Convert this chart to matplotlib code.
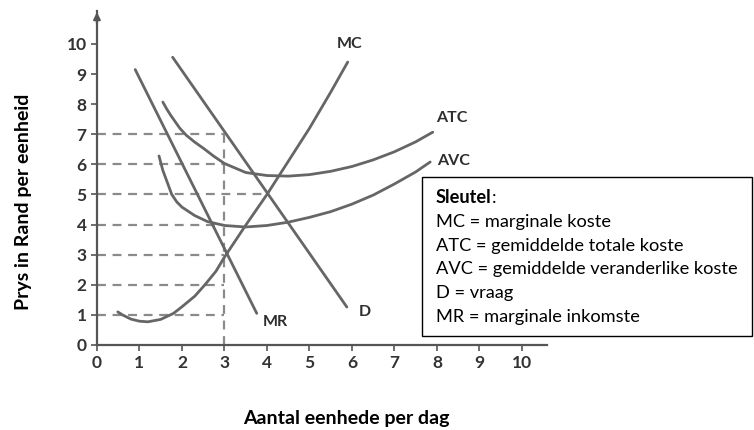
import numpy as np
import matplotlib.pyplot as plt

# curves (units, rand)
mc_x = [0.49, 0.6, 0.8, 1.0, 1.2, 1.5, 1.8, 2.0, 2.3, 2.54, 2.8, 3.0, 3.5, 4.0, 4.5, 5.0, 5.5, 5.9]
mc_y = [1.1, 1.0, 0.86, 0.79, 0.77, 0.85, 1.05, 1.27, 1.62, 2.0, 2.45, 2.92, 3.98, 5.0, 6.1, 7.2, 8.4, 9.4]

atc_x = [1.55, 1.65, 1.75, 1.95, 2.1, 2.3, 2.5, 2.75, 3.0, 3.5, 4.0, 4.5, 5.0, 5.5, 6.0, 6.5, 7.0, 7.5, 7.9]
atc_y = [8.07, 7.82, 7.6, 7.2, 6.97, 6.74, 6.54, 6.27, 6.03, 5.73, 5.63, 5.61, 5.66, 5.77, 5.93, 6.15, 6.42, 6.75, 7.07]

avc_x = [1.46, 1.55, 1.65, 1.76, 1.88, 2.0, 2.3, 2.6, 3.0, 3.5, 4.0, 4.5, 5.0, 5.5, 6.0, 6.5, 7.0, 7.5, 7.84]
avc_y = [6.28, 5.8, 5.42, 5.0, 4.75, 4.58, 4.3, 4.1, 3.97, 3.92, 3.97, 4.08, 4.24, 4.43, 4.68, 4.98, 5.35, 5.75, 6.08]

mr_x = [0.9, 3.76]
mr_y = [9.15, 1.05]

d_x = [1.78, 5.88]
d_y = [9.56, 1.26]

# dashed guide lines: price level and where they stop
guide_prices = [7, 6, 5, 4, 3, 2, 1]
guide_ends = [3, 3, 4, 3, 3, 3, 3]
q_guide = 3
q_guide_top = 7

key_title = "Sleutel"
key_lines = [
    "MC = marginale koste",
    "ATC = gemiddelde totale koste",
    "AVC = gemiddelde veranderlike koste",
    "D = vraag",
    "MR = marginale inkomste",
]

plt.rcParams['font.family'] = ['Lato', 'DejaVu Sans']

fig = plt.figure(figsize=(7.54, 4.30), dpi=100)
ax = fig.add_axes([0.1286, 0.1977, 0.5975, 0.777])

line_col = "#666666"
dash_col = "#8a8a8a"

# guides first so curves sit on top
for p, e in zip(guide_prices, guide_ends):
    ax.plot([0, e], [p, p], color=dash_col, lw=1.6, ls=(0, (4, 3)), zorder=1)
ax.plot([q_guide, q_guide], [0, q_guide_top], color=dash_col, lw=1.6, ls=(0, (4, 3)), zorder=1)

for xs, ys in [(mc_x, mc_y), (atc_x, atc_y), (avc_x, avc_y), (mr_x, mr_y), (d_x, d_y)]:
    ax.plot(xs, ys, color=line_col, lw=2.0, solid_capstyle="round",
            solid_joinstyle="round", zorder=2)

lab_kw = dict(fontsize=11.5, fontweight="bold", color="#2e2e2e")
ax.text(5.95, 10.0, "MC", ha="center", va="center", **lab_kw)
ax.text(8.35, 7.55, "ATC", ha="center", va="center", **lab_kw)
ax.text(8.4, 6.1, "AVC", ha="center", va="center", **lab_kw)
ax.text(4.2, 0.75, "MR", ha="center", va="center", **lab_kw)
ax.text(6.3, 1.1, "D", ha="center", va="center", **lab_kw)

ax.set_xlim(0, 10.6)
ax.set_ylim(0, 11.1)
ax.set_xticks(range(0, 11))
ax.set_yticks(range(0, 11))
for s in ["top", "right"]:
    ax.spines[s].set_visible(False)
for s in ["left", "bottom"]:
    ax.spines[s].set_color("#555555")
    ax.spines[s].set_linewidth(1.6)
ax.tick_params(colors="#555555", width=1.2, length=4, labelsize=12.5, labelcolor="#333333")
for t in ax.get_xticklabels() + ax.get_yticklabels():
    t.set_fontweight("bold")
ax.set_facecolor("none")

# arrow at the top of the y axis
ax.annotate("", xy=(0, 11.15), xytext=(0, 10.6),
            arrowprops=dict(arrowstyle="-|>", color="#555555", lw=1.6, mutation_scale=10),
            annotation_clip=False)

ax.set_xlabel("Aantal eenhede per dag", fontsize=14, fontweight="bold")
ax.xaxis.set_label_coords(0.553, -0.195)
ax.set_ylabel("Prys in Rand per eenheid", fontsize=14, fontweight="bold")
ax.yaxis.set_label_coords(-0.145, 0.43)

# key box
box = plt.Rectangle((0.56, 0.218), 0.438, 0.37, transform=fig.transFigure,
                    facecolor="white", edgecolor="black", lw=1.0, zorder=5)
fig.patches.append(box)
r = fig.canvas.get_renderer()
tx = 0.578
ty = 0.54
# size the key text so the longest line is about 301 px wide, as in the picture
probe = fig.text(0, 0, key_lines[2], fontsize=12)
w = probe.get_window_extent(renderer=r).width
probe.remove()
fs = 12 * 301 / w
title = fig.text(tx, ty, key_title, fontsize=fs, fontweight="bold", va="center", zorder=6)
bb = title.get_window_extent(renderer=r)
fig.text(bb.x1 / fig.bbox.width, ty, ":", fontsize=fs, va="center", zorder=6)
for i, s in enumerate(key_lines):
    fig.text(tx, ty - (i + 1) * 0.0555, s, fontsize=fs, va="center", zorder=6)

fig.savefig("out.png", dpi=100)
